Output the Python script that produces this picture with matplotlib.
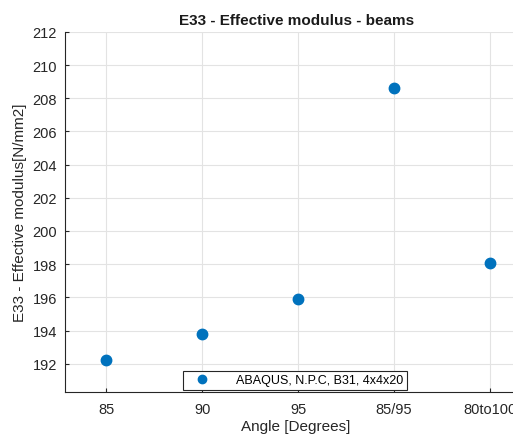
import matplotlib
matplotlib.use('Agg')
import matplotlib.pyplot as plt

plt.rcParams['font.family'] = ['Liberation Sans', 'DejaVu Sans']

# Data
angles = ['85', '90', '95', '85/95', '80to100']
e33 = [192.2, 193.8, 195.9, 208.6, 198.1]

fig = plt.figure(figsize=(5.13, 4.39), dpi=100)
# axes box runs a little past the right edge of the figure
ax = fig.add_axes([0.127, 0.105, 0.9006, 0.82])
xpos = list(range(len(angles)))
ax.plot(xpos, e33, 'o', color='#0072BD', markersize=7.5, label='ABAQUS, N.P.C, B31, 4x4x20', zorder=3)

ax.set_xlim(-0.427, 4.385)
ax.set_ylim(190.3, 212)
ax.set_xticks(xpos)
ax.set_xticklabels(angles)
ax.set_yticks(range(192, 213, 2))
ax.grid(True, color='#e3e3e3', linewidth=0.8)
ax.set_axisbelow(True)
for s in ['top', 'right']:
    ax.spines[s].set_visible(False)
for s in ['left', 'bottom']:
    ax.spines[s].set_color('#262626')
    ax.spines[s].set_linewidth(0.8)
ax.tick_params(direction='in', length=3, colors='#262626', labelsize=10.5, pad=6)
ax.tick_params(axis='x', pad=7.5)

ax.set_title('E33 - Effective modulus - beams', fontsize=11, fontweight='bold', color='#1a1a1a', pad=6)
ax.set_xlabel('Angle [Degrees]', fontsize=11, color='#262626', labelpad=2)
ax.set_ylabel('E33 - Effective modulus[N/mm2]', fontsize=11, color='#262626', labelpad=4)

leg = ax.legend(loc='lower center', bbox_to_anchor=(295 / 513, (439 - 391) / 439),
                bbox_transform=fig.transFigure, fontsize=9, fancybox=False,
                framealpha=1, edgecolor='#262626', borderpad=0.3, handletextpad=1.5,
                borderaxespad=0, handlelength=2.5, markerscale=0.8)
leg.get_frame().set_linewidth(0.8)

fig.savefig('out.png', dpi=100)
